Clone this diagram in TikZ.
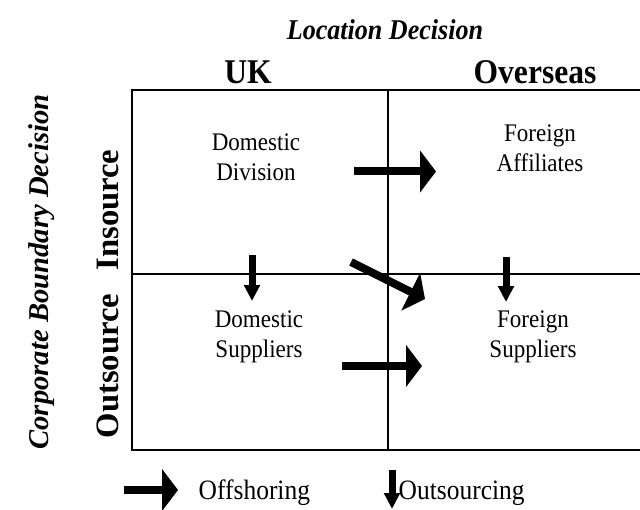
\documentclass[tikz,border=0pt]{standalone}
\usepackage{fontspec}
\setmainfont[FakeStretch=0.91]{Liberation Serif}
\newfontfamily\upfont{Liberation Serif}
\usepackage{tikz}
\usetikzlibrary{arrows.meta}
\usetikzlibrary{calc}
\usetikzlibrary{positioning}

\tikzset{
	grid line/.style={line width=0.8pt},
	offshore/.style={line width=6pt,-{Triangle[width=31pt,length=12pt]}},
	outsource/.style={line width=5.25pt,-{Triangle[width=11.5pt,length=12pt]}},
	cell/.style={align=center,font=\fontsize{19}{22.5}\selectfont},
	key/.style={anchor=west,font=\fontsize{21}{25}\selectfont},
	head/.style={font=\fontsize{26}{30}\selectfont\bfseries},
	side/.style={rotate=90,anchor=center,font=\upfont\fontsize{24.5}{28}\selectfont\bfseries},
}

\begin{document}
\begin{tikzpicture}[x=0.75pt,y=-0.75pt]
	\useasboundingbox (0,0) rectangle (640,510);
	
	% grid
	\coordinate (nw) at (132,90);
	\coordinate (ne) at (640,90);
	\coordinate (sw) at (132,450);
	\coordinate (se) at (640,450);
	\coordinate (top mid) at (388,90);
	\coordinate (bot mid) at (388,450);
	\coordinate (west mid) at (132,274);
	\coordinate (east mid) at (640,274);
	\draw[grid line] (ne) -- (nw) -- (sw) -- (se);
	\draw[grid line] (top mid) -- (bot mid);
	\draw[grid line] (west mid) -- (east mid);
	
	% headings
	\node[font=\fontsize{21.5}{25}\selectfont\bfseries\itshape] (location) at (385,30) {Location Decision};
	\node[head] (uk) at (248,72) {UK};
	\node[head] (overseas) at (535,72) {Overseas};
	\node[side,font=\upfont\fontsize{21.5}{25}\selectfont\bfseries\itshape] (boundary) at (42,272) {Corporate Boundary Decision};
	\node[side] (insource) at (108,210) {Insource};
	\node[side] (outsource) at (108,366) {Outsource};
	
	% cells
	\node[cell] (dom div) at (256,157) {Domestic\\Division};
	\node[cell] (for aff) at (540,148) {Foreign\\Affiliates};
	\node[cell] (dom sup) at (259,337) {Domestic\\Suppliers};
	\node[cell] (for sup) at (533,337) {Foreign\\Suppliers};
	
	% moves
	\coordinate (a) at (354,171.5);
	\coordinate (b) at (436,171.5);
	\coordinate (c) at (342,366);
	\coordinate (d) at (422,366);
	\coordinate (e) at (351,262);
	\coordinate (f) at (425,299);
	\coordinate (g) at (252,255);
	\coordinate (h) at (252,301);
	\coordinate (i) at (506,257);
	\coordinate (j) at (506,302);
	\draw[offshore] (a) -- (b);
	\draw[offshore] (c) -- (d);
	\draw[offshore] (e) -- (f);
	\draw[outsource] (g) -- (h);
	\draw[outsource] (i) -- (j);
	
	% legend
	\coordinate (k) at (124,490);
	\coordinate (l) at (178,490);
	\coordinate (m) at (392,470);
	\coordinate (n) at (392,509);
	\draw[offshore] (k) -- (l);
	\draw[outsource] (m) -- (n);
	\node[key] (offshoring) at (194,493) {Offshoring};
	\node[key] (outsourcing) at (394,493) {Outsourcing};
	
\end{tikzpicture}
\end{document}
